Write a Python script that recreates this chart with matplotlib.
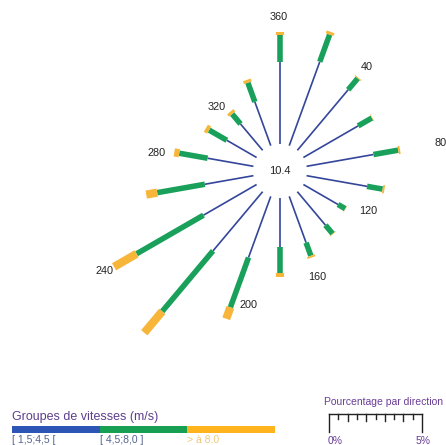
import matplotlib
matplotlib.use('Agg')
import matplotlib.pyplot as plt
import numpy as np

plt.rcParams['font.family'] = ['Liberation Sans', 'DejaVu Sans']

# Rose des vents : pourcentage par direction et par groupe de vitesses
directions = [0, 20, 40, 60, 80, 100, 120, 140, 160, 180, 200, 220, 240, 260, 280, 300, 320, 340]
p_faible = [4.4, 4.8, 4.25, 3.4, 3.65, 3.3, 2.15, 2.35, 2.65, 2.65, 3.5, 4.15, 3.3, 2.65, 2.5, 1.85, 1.85, 2.5]
p_moyen = [1.45, 1.55, 0.8, 0.85, 1.35, 0.85, 0.45, 0.6, 0.75, 1.4, 2.85, 4.25, 4.15, 2.6, 1.55, 1.1, 0.7, 1.1]
p_fort = [0.16, 0.16, 0.05, 0.03, 0.1, 0.1, 0.02, 0.03, 0.1, 0.2, 0.65, 1.5, 1.4, 0.6, 0.27, 0.2, 0.16, 0.16]
calme = 10.4

groupes = ['[ 1,5;4,5 [', '[ 4,5;8,0 ]', '> à 8.0']
couleurs = ['#34469a', '#19a05a', '#f7b53a']
couleurs_legende = ['#2d55b5', '#17a052', '#ffb41e']
couleurs_texte = ['#55648f', '#55648f', '#f0c878']

etiquettes = ['360', '40', '80', '120', '160', '200', '240', '280', '320']
# position des etiquettes en pixels (x, y depuis le haut)
pos_etiquettes = [(279, 17), (367, 67), (441, 143), (368, 211), (317, 277),
                  (249, 305), (105, 271), (157, 153), (217, 107)]

W, H = 446, 445
PX_PAR_PCT = 18.6
TROU = 27  # rayon du cercle central en pixels
cx, cy = 280, 171

fig = plt.figure(figsize=(W / 100, H / 100), dpi=100)
fig.patch.set_facecolor('white')

r_max = 11.5
r_origine = -TROU / PX_PAR_PCT
R = (r_max - r_origine) * PX_PAR_PCT
ax = fig.add_axes([(cx - R) / W, (H - cy - R) / H, 2 * R / W, 2 * R / H], projection='polar')
ax.set_theta_zero_location('N')
ax.set_theta_direction(-1)
ax.set_ylim(0, r_max)
ax.set_rorigin(r_origine)
ax.axis('off')
ax.patch.set_alpha(0)

largeurs = [1.2, 4.0, 5.9]
for d, a, b, c in zip(directions, p_faible, p_moyen, p_fort):
    th = np.radians(d)
    bornes = [0, a, a + b, a + b + c]
    for k in range(3):
        ax.plot([th, th], [bornes[k], bornes[k + 1]], color=couleurs[k], lw=largeurs[k],
                solid_capstyle='butt', clip_on=False)

ax.text(0.5, 0.5, f'{calme}', transform=ax.transAxes, ha='center', va='center',
        fontsize=8, color='#222222')

for t, (x, y) in zip(etiquettes, pos_etiquettes):
    fig.text(x / W, 1 - y / H, t, ha='center', va='center', fontsize=7.8, color='#222222')

# Legende des groupes de vitesses
fig.text(12 / W, 1 - 417 / H, 'Groupes de vitesses (m/s)', ha='left', va='center',
         fontsize=9, color='#5e3f8c')
axl = fig.add_axes([12 / W, 1 - 433 / H, 263 / W, 7 / H])
axl.barh(0, [1, 1, 1], left=[0, 1, 2], height=1, color=couleurs_legende)
axl.set_xlim(0, 3)
axl.set_ylim(-0.5, 0.5)
axl.axis('off')
for k, g in enumerate(groupes):
    fig.text((12 + k * 263 / 3) / W, 1 - 440 / H, g, ha='left', va='center',
             fontsize=7.5, color=couleurs_texte[k])

# Echelle des pourcentages
fig.text(324 / W, 1 - 402 / H, 'Pourcentage par direction', ha='left', va='center',
         fontsize=7.5, color='#6a3d96')
ech = fig.add_axes([329 / W, 1 - 432 / H, 5 * PX_PAR_PCT / W, 18 / H])
ech.set_xlim(0, 5)
ech.set_ylim(1, 0)
ech.axis('off')
ech.plot([0, 5], [0, 0], color='#222222', lw=1, clip_on=False)
graduations = np.arange(0, 5.01, 0.5)
for g in graduations:
    if g in (0, 5):
        long = 1.0
    elif g % 1 == 0:
        long = 0.4
    else:
        long = 0.28
    ech.plot([g, g], [0, long], color='#222222', lw=1, clip_on=False)
fig.text(328 / W, 1 - 441 / H, '0%', ha='left', va='center', fontsize=7.5, color='#6a3d96')
fig.text(423 / W, 1 - 441 / H, '5%', ha='center', va='center', fontsize=7.5, color='#6a3d96')

fig.savefig('out.png', dpi=100, facecolor='white')
